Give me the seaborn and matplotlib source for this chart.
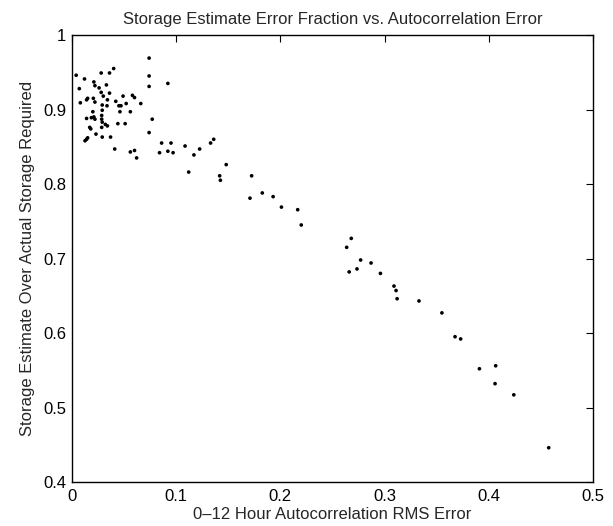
import matplotlib
matplotlib.use("Agg")
import matplotlib.pyplot as plt
import seaborn as sns
import pandas as pd

rms_error = [
    0.004, 0.012, 0.007, 0.028, 0.036, 0.040, 0.021, 0.022, 0.033, 0.026,
    0.028, 0.036, 0.030, 0.049, 0.015, 0.0205, 0.034, 0.008, 0.014, 0.022,
    0.042, 0.029, 0.0336, 0.045, 0.047, 0.056, 0.020, 0.029, 0.046, 0.014,
    0.0186, 0.021, 0.022, 0.0285, 0.0285, 0.029, 0.0285, 0.032, 0.034, 0.044,
    0.051, 0.017, 0.018, 0.023, 0.029, 0.037, 0.014, 0.015, 0.0125, 0.041,
    0.056, 0.060, 0.062, 0.052, 0.066, 0.058, 0.060, 0.074, 0.074, 0.074,
    0.092, 0.077, 0.074, 0.086, 0.095, 0.084, 0.092, 0.097, 0.1085, 0.112,
    0.117, 0.1225, 0.133, 0.136, 0.148, 0.1417, 0.1424, 0.1724, 0.1708, 0.1826,
    0.193, 0.201, 0.2166, 0.220, 0.268, 0.2636, 0.277, 0.287, 0.266, 0.2735,
    0.296, 0.309, 0.311, 0.312, 0.333, 0.355, 0.3676, 0.373, 0.391, 0.4066,
    0.406, 0.424, 0.4575,
]
storage_ratio = [
    0.946, 0.941, 0.928, 0.949, 0.949, 0.955, 0.937, 0.932, 0.933, 0.929,
    0.923, 0.922, 0.918, 0.918, 0.915, 0.915, 0.913, 0.909, 0.913, 0.910,
    0.911, 0.906, 0.905, 0.905, 0.905, 0.897, 0.897, 0.899, 0.897, 0.888,
    0.889, 0.890, 0.887, 0.892, 0.887, 0.883, 0.876, 0.880, 0.878, 0.881,
    0.881, 0.876, 0.874, 0.867, 0.863, 0.863, 0.860, 0.862, 0.858, 0.847,
    0.843, 0.845, 0.835, 0.908, 0.908, 0.919, 0.916, 0.969, 0.945, 0.931,
    0.935, 0.887, 0.869, 0.855, 0.855, 0.842, 0.844, 0.842, 0.851, 0.816,
    0.839, 0.847, 0.855, 0.860, 0.826, 0.811, 0.805, 0.811, 0.781, 0.788,
    0.783, 0.769, 0.7655, 0.745, 0.727, 0.715, 0.698, 0.694, 0.682, 0.686,
    0.680, 0.663, 0.657, 0.646, 0.643, 0.627, 0.595, 0.592, 0.552, 0.556,
    0.532, 0.517, 0.446,
]
x_ticks = [0, 0.1, 0.2, 0.3, 0.4, 0.5]
x_tick_labels = ["0", "0.1", "0.2", "0.3", "0.4", "0.5"]
y_ticks = [0.4, 0.5, 0.6, 0.7, 0.8, 0.9, 1.0]
y_tick_labels = ["0.4", "0.5", "0.6", "0.7", "0.8", "0.9", "1"]

df = pd.DataFrame({"rms": rms_error, "ratio": storage_ratio})

sns.set_style("white")
plt.rcParams["font.family"] = ["Liberation Sans", "DejaVu Sans"]

fig = plt.figure(figsize=(6.13, 5.26), dpi=100)
ax = fig.add_axes([72 / 613, 44 / 526, 521 / 613, 447 / 526])
sns.scatterplot(data=df, x="rms", y="ratio", ax=ax, color="black",
                s=7, linewidth=0, edgecolor="none")

ax.set_xlim(0, 0.5)
ax.set_ylim(0.4, 1.0)
ax.set_xticks(x_ticks)
ax.set_xticklabels(x_tick_labels)
ax.set_yticks(y_ticks)
ax.set_yticklabels(y_tick_labels)
ax.tick_params(direction="in", length=5, width=0.8, top=True, right=True,
               labelsize=12, colors="black")
ax.tick_params(axis="x", pad=5)
ax.tick_params(axis="y", pad=4)
for sp in ax.spines.values():
    sp.set_visible(True)
    sp.set_color("black")
    sp.set_linewidth(1.0)

ax.set_xlabel("0\u201312 Hour Autocorrelation RMS Error", fontsize=12, labelpad=2)
ax.set_ylabel("Storage Estimate Over Actual Storage Required", fontsize=12, labelpad=6)
ax.set_title("Storage Estimate Error Fraction vs. Autocorrelation Error", fontsize=12, pad=8)

fig.savefig("out.png", dpi=100)
